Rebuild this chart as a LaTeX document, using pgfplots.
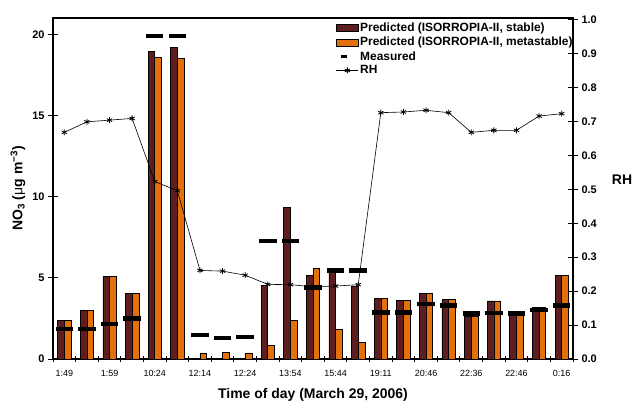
\documentclass[border=0pt]{standalone}
\usepackage{fontspec}
\setmainfont{Liberation Sans}
\usepackage{graphicx}
\usepackage{pgfplots}
\pgfplotsset{compat=1.18}
\definecolor{stable}{RGB}{94,30,32}
\definecolor{meta}{RGB}{228,112,12}
\newcommand{\lf}[1]{\scalebox{1.09}{\bfseries\fontsize{11}{12}\selectfont #1}}
\pgfplotstableread{
x stable meta meas rh
0 2.38 2.40 1.86 0.668
1 2.97 2.97 1.86 0.699
2 5.08 5.08 2.17 0.704
3 4.04 4.04 2.48 0.709
4 18.92 18.57 19.9 0.523
5 19.20 18.49 19.9 0.496
6 nan 0.37 1.49 0.261
7 nan 0.41 1.29 0.259
8 nan 0.37 1.35 0.247
9 4.53 0.82 7.27 0.220
10 9.35 2.36 7.27 0.219
11 5.14 5.60 4.41 0.213
12 5.45 1.80 5.45 0.215
13 4.47 1.02 5.45 0.219
14 3.73 3.73 2.87 0.726
15 3.61 3.61 2.87 0.728
16 4.02 4.02 3.38 0.733
17 3.65 3.65 3.30 0.726
18 2.62 2.62 2.79 0.668
19 3.58 3.58 2.83 0.674
20 2.93 2.93 2.79 0.674
21 3.16 3.16 3.03 0.716
22 5.14 5.14 3.30 0.723
}\data
\begin{document}
\begin{tikzpicture}
\useasboundingbox (-53bp,-45bp) rectangle (579bp,359bp);
\pgfplotsset{base/.style={scale only axis, width=520bp, height=341bp, xmin=-0.5, xmax=22.5,
  at={(0,0)}, anchor=south west,
  /pgf/number format/assume math mode=true,
  axis line style={line width=1.2bp, black}, tick style={line width=1bp, black}, tick align=center}}
% boundary ticks on the time axis
\begin{axis}[base, ymin=0, ymax=21, hide y axis, axis x line*=bottom,
  xtick={-0.5,0.5,1.5,2.5,3.5,4.5,5.5,6.5,7.5,8.5,9.5,10.5,11.5,12.5,13.5,14.5,15.5,16.5,17.5,18.5,19.5,20.5,21.5,22.5},
  xticklabels={}, major tick length=6bp]
\end{axis}
\begin{axis}[base, name=main, ymin=0, ymax=21, ytick={0,5,10,15,20}, ytick pos=left,
  major tick length=10bp,
  xtick={0,2,4,6,8,10,12,14,16,18,20,22},
  xticklabels={1:49,1:59,10:24,12:14,12:24,13:54,15:44,19:11,20:46,22:36,22:46,0:16},
  xtick style={draw=none},
  xticklabel style={font=\fontsize{9}{10}\selectfont, yshift=-3bp},
  yticklabel style={font=\bfseries\fontsize{11}{12}\selectfont},
  xlabel={\bfseries Time of day (March 29, 2006)},
  xlabel style={font=\fontsize{14}{16}\selectfont, yshift=-5bp},
  ylabel={\bfseries NO\textsubscript{3} ({\mdseries μ}g m\textsuperscript{−3})},
  ylabel style={font=\fontsize{14}{16}\selectfont},
  ]
\addplot[ybar, bar width=6.7bp, bar shift=-3.35bp, fill=stable, draw=black, line width=0.6bp] table[x=x, y=stable] {\data};
\addplot[ybar, bar width=6.7bp, bar shift=3.35bp, fill=meta, draw=black, line width=0.6bp] table[x=x, y=meta] {\data};
\addplot[only marks, mark=-, mark size=8.75bp, mark options={line width=4.5bp, black}] table[x=x, y=meas] {\data};
\end{axis}
\begin{axis}[base, ymin=0, ymax=1.005, axis y line*=right, axis x line=none,
  ytick={0,0.1,0.2,0.3,0.4,0.5,0.6,0.7,0.8,0.9,1},
  major tick length=10bp,
  yticklabel style={font=\bfseries\fontsize{11}{12}\selectfont, /pgf/number format/.cd, fixed, fixed zerofill, precision=1},
  ylabel={\bfseries RH},
  ylabel style={font=\fontsize{14}{16}\selectfont, rotate=-90, at={(rel axis cs:1,0.525)}, anchor=center, xshift=49bp},
  legend style={at={(rel axis cs:0.544,0.99)}, anchor=north west, draw=none, fill=none,
    row sep=1bp, inner sep=0bp, nodes={inner sep=1.5bp}, column sep=0bp, cells={anchor=west}},
  ]
\addlegendimage{legend image code/.code={\draw[fill=stable, draw=black, line width=0.6bp] (0bp,-3.5bp) rectangle (22bp,3.5bp);}}
\addlegendentry{\lf{Predicted (ISORROPIA-II, stable)}}
\addlegendimage{legend image code/.code={\draw[fill=meta, draw=black, line width=0.6bp] (0bp,-3.5bp) rectangle (22bp,3.5bp);}}
\addlegendentry{\lf{Predicted (ISORROPIA-II, metastable)}}
\addlegendimage{legend image code/.code={\draw[black, line width=3bp] (5bp,0) -- (11bp,0);}}
\addlegendentry{\lf{Measured}}
\addplot[black, line width=0.6bp, mark=asterisk, mark size=3bp, mark options={line width=0.8bp},
  legend image code/.code={\draw[black, line width=0.6bp] (0bp,0) -- (22bp,0); \draw[black, line width=0.8bp] plot[mark=asterisk, mark size=3bp] coordinates {(11bp,0)};}]
  table[x=x, y=rh] {\data};
\addlegendentry{\lf{RH}}
\end{axis}
\end{tikzpicture}
\end{document}
